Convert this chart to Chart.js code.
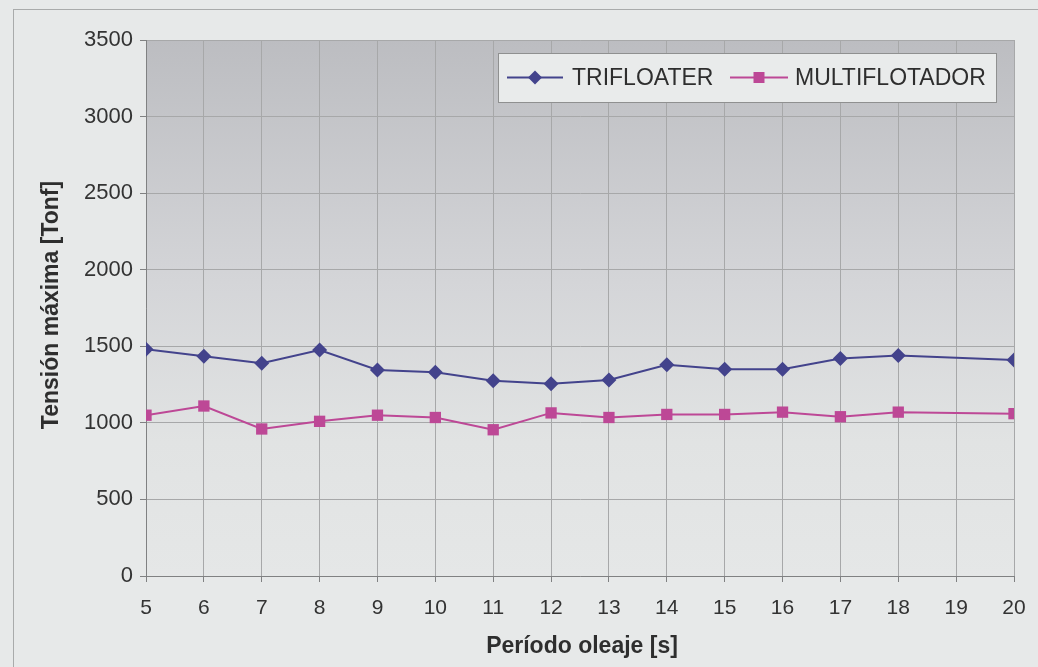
<!DOCTYPE html>
<html>
<head>
<meta charset="utf-8">
<script src="https://cdn.jsdelivr.net/npm/chart.js@4.4.1/dist/chart.umd.min.js"></script>
<style>
  html, body { margin: 0; padding: 0; background: #e7e9e9; }
  #wrap { position: relative; width: 1038px; height: 667px; overflow: hidden; }
  #frame { position: absolute; left: 13px; top: 9px; width: 1040px; height: 700px; border: 1px solid #a9abab; box-sizing: border-box; }
  canvas { position: absolute; left: 0; top: 0; }
</style>
</head>
<body>
<div id="wrap">
  <div id="frame"></div>
  <canvas id="c" width="1038" height="667"></canvas>
</div>
<script>
// Wave period [s]
const periods = [5, 6, 7, 8, 9, 10, 11, 12, 13, 14, 15, 16, 17, 18, 20];
// Maximum tension [Tonf]
const trifloater = [1480, 1435, 1390, 1475, 1345, 1330, 1275, 1255, 1280, 1380, 1350, 1350, 1420, 1440, 1410];
const multiflotador = [1050, 1110, 960, 1010, 1050, 1035, 955, 1065, 1035, 1055, 1055, 1070, 1040, 1070, 1060];
const seriesNames = ['TRIFLOATER', 'MULTIFLOTADOR'];
const xTitle = 'Período oleaje [s]';
const yTitle = 'Tensión máxima [Tonf]';

const FONT = '"Liberation Sans", Arial, sans-serif';
const TRI_COLOR = '#43438c';
const MULTI_COLOR = '#bd4896';

const toPoints = (ys) => ys.map((y, i) => ({ x: periods[i], y }));

// Shaded plot area background
const plotBackground = {
  id: 'plotBackground',
  beforeDraw(chart) {
    const { ctx, chartArea: a } = chart;
    const g = ctx.createLinearGradient(0, a.top, 0, a.bottom);
    g.addColorStop(0, '#bcbdc1');
    g.addColorStop(0.45, '#d4d5d8');
    g.addColorStop(0.75, '#e1e3e3');
    g.addColorStop(1, '#e5e7e7');
    ctx.save();
    ctx.fillStyle = g;
    ctx.fillRect(a.left, a.top, a.right - a.left, a.bottom - a.top);
    ctx.restore();
  }
};

// Axis titles and boxed legend
const decorations = {
  id: 'decorations',
  afterDraw(chart) {
    const { ctx } = chart;
    ctx.save();
    ctx.fillStyle = '#2e2e2e';
    ctx.font = 'bold 23px ' + FONT;
    ctx.textAlign = 'center';
    ctx.textBaseline = 'middle';
    ctx.fillText(xTitle, 582, 647);
    ctx.translate(52, 305);
    ctx.rotate(-Math.PI / 2);
    ctx.fillText(yTitle, 0, 0);
    ctx.restore();

    // legend box
    const lx = 498, ly = 53, lw = 498, lh = 49;
    ctx.save();
    ctx.fillStyle = '#e9ebeb';
    ctx.fillRect(lx, ly, lw, lh);
    ctx.strokeStyle = '#8f9090';
    ctx.lineWidth = 1;
    ctx.strokeRect(lx + 0.5, ly + 0.5, lw, lh);
    const cy = ly + lh / 2;
    const items = [
      { x0: 507, x1: 563, text: seriesNames[0], tx: 572, ds: chart.data.datasets[0] },
      { x0: 730, x1: 788, text: seriesNames[1], tx: 795, ds: chart.data.datasets[1] }
    ];
    items.forEach(it => {
      ctx.strokeStyle = it.ds.borderColor;
      ctx.lineWidth = 2;
      ctx.beginPath();
      ctx.moveTo(it.x0, cy);
      ctx.lineTo(it.x1, cy);
      ctx.stroke();
      const mx = (it.x0 + it.x1) / 2;
      ctx.fillStyle = it.ds.pointBackgroundColor;
      ctx.beginPath();
      if (it.ds.pointStyle === 'rectRot') {
        const r = 7;
        ctx.moveTo(mx, cy - r); ctx.lineTo(mx + r, cy); ctx.lineTo(mx, cy + r); ctx.lineTo(mx - r, cy);
        ctx.closePath();
      } else {
        ctx.rect(mx - 5.5, cy - 5.5, 11, 11);
      }
      ctx.fill();
      ctx.fillStyle = '#2e2e2e';
      ctx.font = '23px ' + FONT;
      ctx.textAlign = 'left';
      ctx.textBaseline = 'middle';
      ctx.fillText(it.text, it.tx, cy + 1);
    });
    ctx.restore();
  }
};

new Chart(document.getElementById('c'), {
  type: 'line',
  data: {
    datasets: [
      {
        label: seriesNames[0],
        data: toPoints(trifloater),
        borderColor: TRI_COLOR,
        backgroundColor: TRI_COLOR,
        pointBackgroundColor: TRI_COLOR,
        pointBorderColor: TRI_COLOR,
        pointStyle: 'rectRot',
        pointRadius: 7.5,
        pointBorderWidth: 0,
        borderWidth: 2,
        tension: 0
      },
      {
        label: seriesNames[1],
        data: toPoints(multiflotador),
        borderColor: MULTI_COLOR,
        backgroundColor: MULTI_COLOR,
        pointBackgroundColor: MULTI_COLOR,
        pointBorderColor: MULTI_COLOR,
        pointStyle: 'rect',
        pointRadius: 8,
        pointBorderWidth: 0,
        borderWidth: 2,
        tension: 0
      }
    ]
  },
  options: {
    responsive: false,
    animation: false,
    layout: { padding: { top: 40, right: 24, left: 0, bottom: 0 } },
    plugins: {
      legend: { display: false },
      tooltip: { enabled: false }
    },
    scales: {
      x: {
        type: 'linear',
        min: 5,
        max: 20,
        ticks: { stepSize: 1, color: '#333', font: { family: FONT, size: 21 }, padding: 14,
                 callback: (v) => String(v) },
        grid: { color: '#a7a8a9', lineWidth: 1, tickLength: 6, tickColor: '#808182' },
        border: { color: '#808182', width: 1 },
        afterFit(scale) { scale.height = 91; scale.paddingLeft = 0; scale.paddingRight = 0; }
      },
      y: {
        min: 0,
        max: 3500,
        ticks: { stepSize: 500, color: '#333', font: { family: FONT, size: 22 }, padding: 7,
                 callback: (v) => String(v) },
        grid: { color: '#a7a8a9', lineWidth: 1, tickLength: 6, tickColor: '#808182' },
        border: { color: '#808182', width: 1 },
        afterFit(scale) { scale.width = 146; scale.paddingTop = 0; scale.paddingBottom = 0; }
      }
    }
  },
  plugins: [plotBackground, decorations]
});
</script>
</body>
</html>
